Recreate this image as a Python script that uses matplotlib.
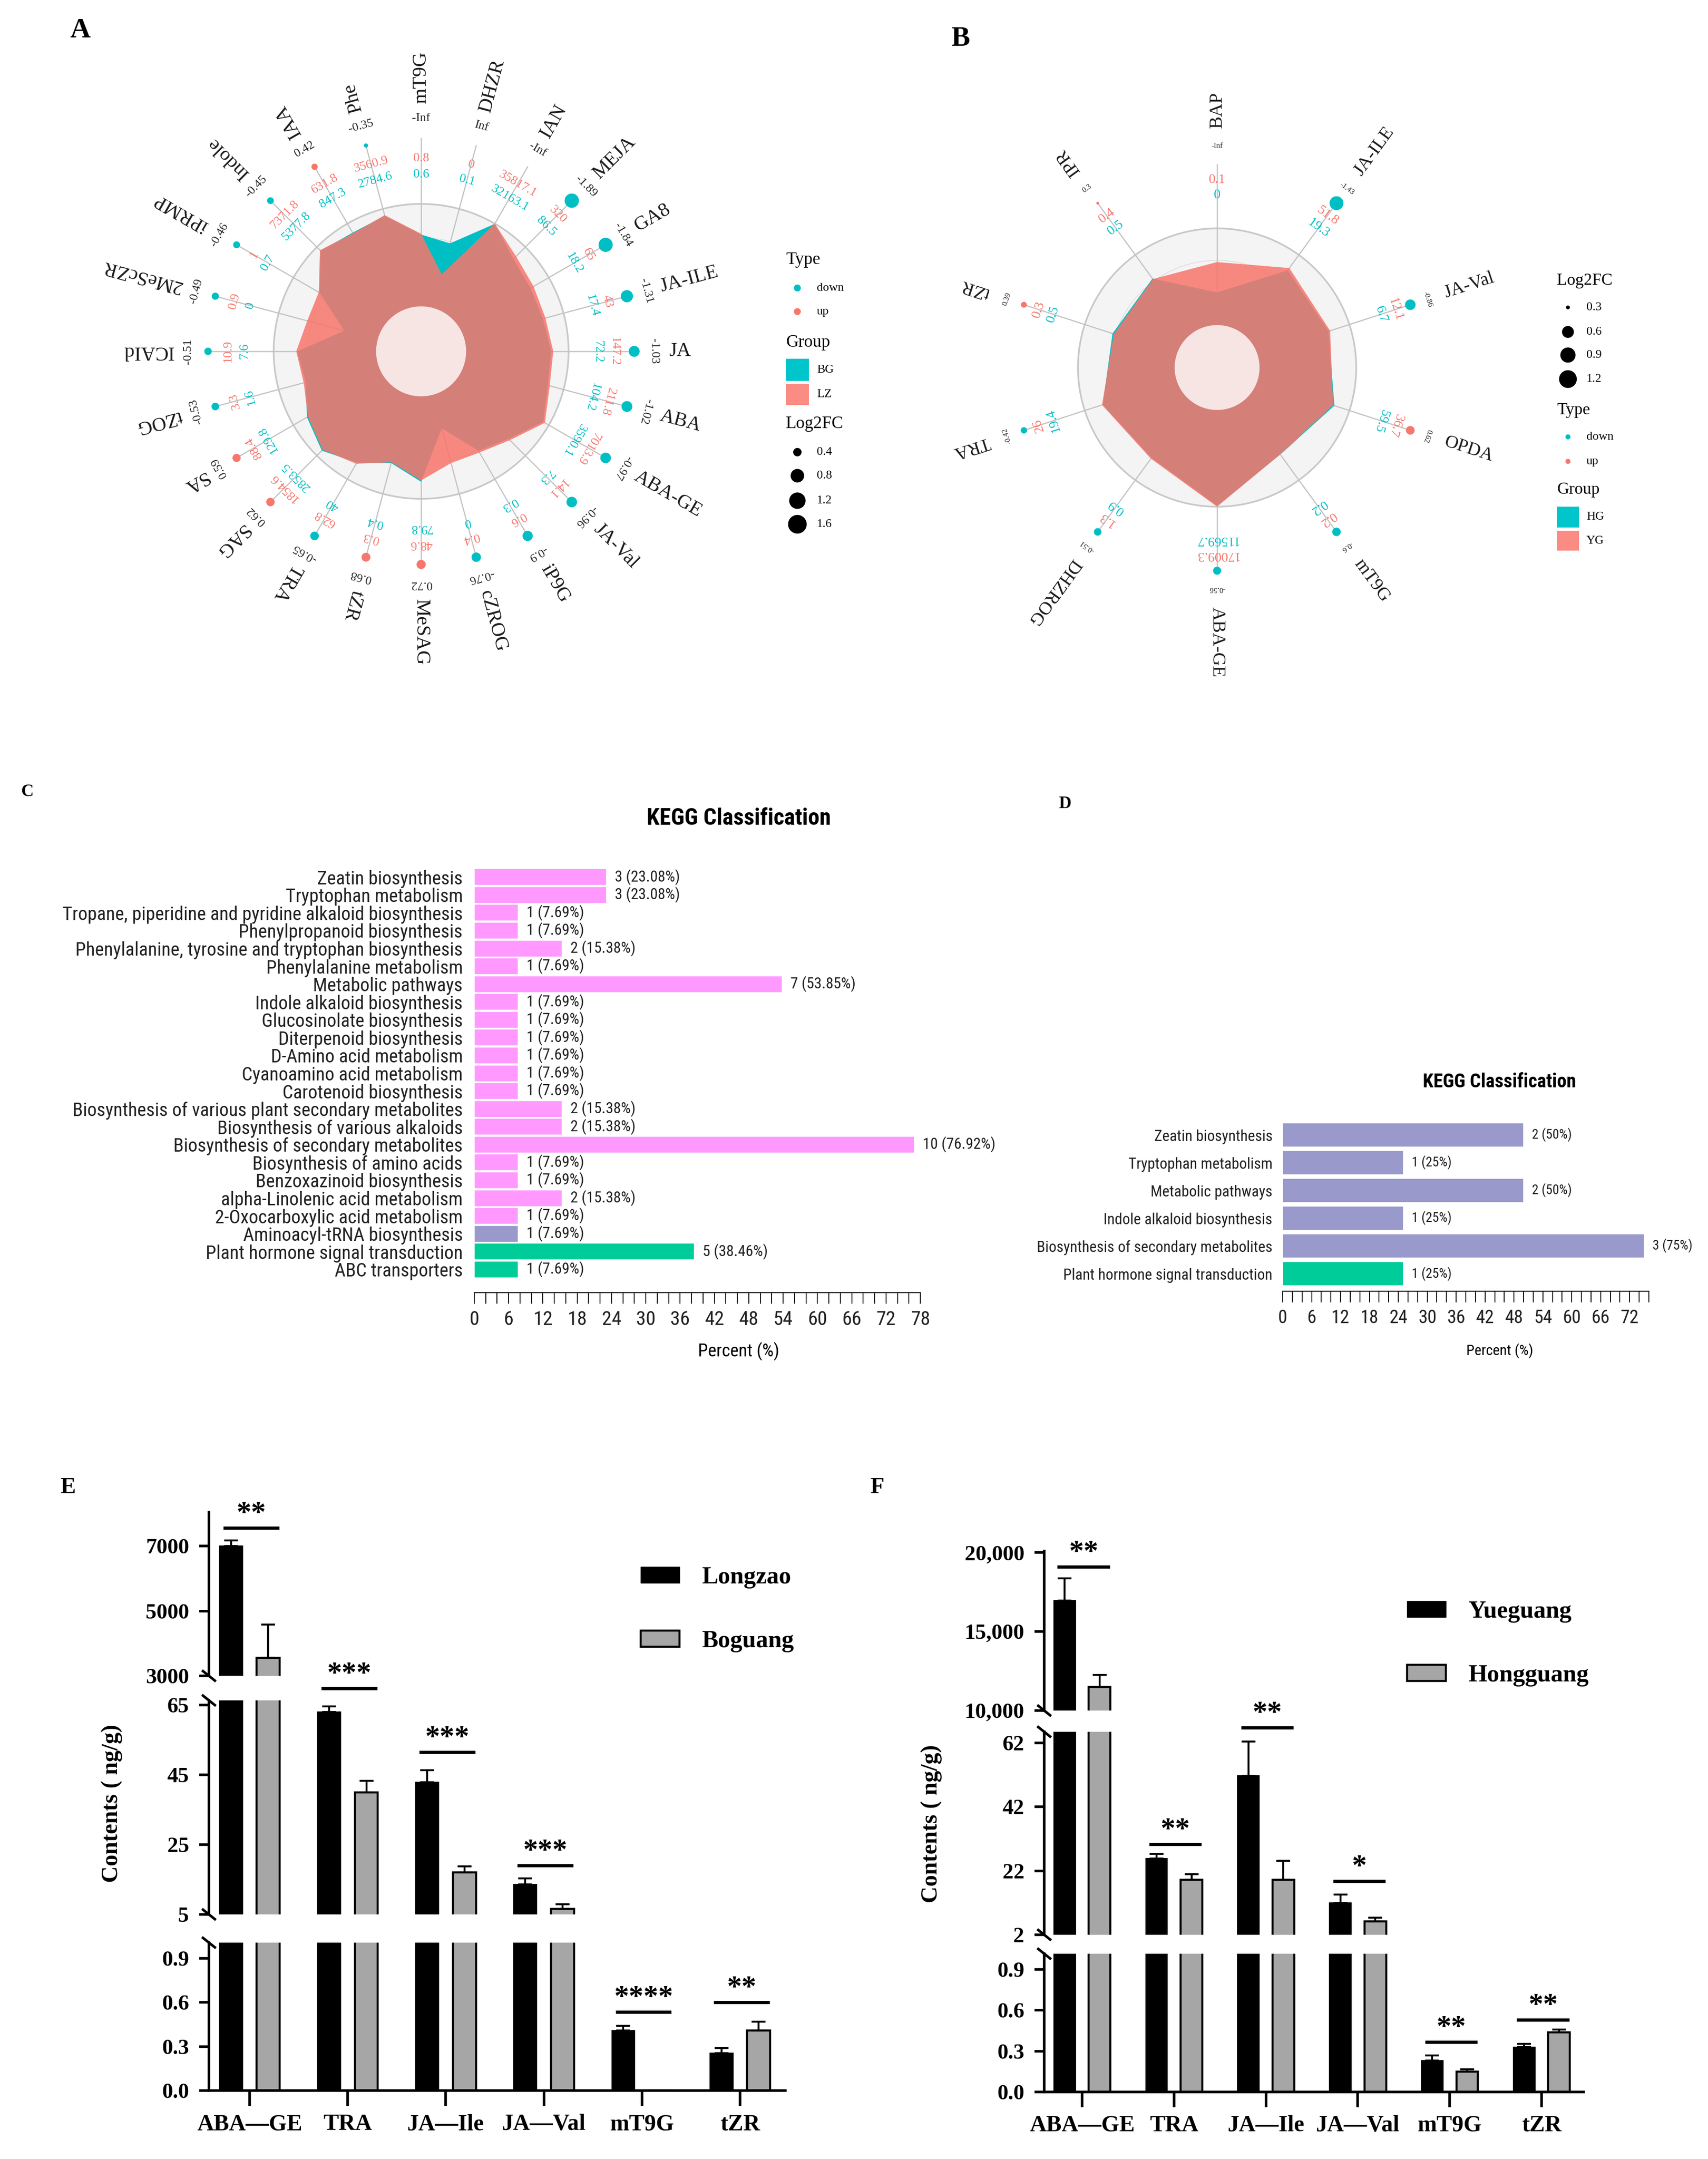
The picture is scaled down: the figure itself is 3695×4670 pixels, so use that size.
import numpy as np
import matplotlib
matplotlib.use("Agg")
import matplotlib.pyplot as plt
from matplotlib.patches import Rectangle, Patch
from matplotlib.ticker import MultipleLocator

W, H = 3695, 4670
SERIF = ["Liberation Serif", "DejaVu Serif"]
NARROW = ["Liberation Sans Narrow", "Roboto Condensed", "DejaVu Sans Condensed", "Liberation Sans"]
plt.rcParams["font.family"] = SERIF

CYAN = "#00BFC4"
PINK = "#F8766D"
GREY = "#A6A6A6"

# ---------------- data: panel A (LZ vs BG) ----------------
a_names = ["mT9G", "DHZR", "IAN", "MEJA", "GA8", "JA-ILE", "JA", "ABA", "ABA-GE", "JA-Val",
           "iP9G", "cZROG", "MeSAG", "tZR", "TRA", "SAG", "SA", "tZOG", "ICAId", "2MeScZR",
           "iPRMP", "Indole", "IAA", "Phe"]
a_lz = [0.8, 0, 35817.1, 320, 65, 43, 147.2, 211.8, 7013.9, 14.1, 0.6, 0.4, 48.6, 0.3, 62.8,
        1854.6, 88.4, 3.3, 10.9, 0.9, 1, 7371.8, 631.8, 3560.9]
a_bg = [0.6, 0.1, 32163.1, 86.5, 18.2, 17.4, 72.2, 104.2, 3590.1, 7.3, 0.3, 0, 79.8, 0.4, 40,
        2853.5, 129.8, 1.6, 7.6, 0, 0.7, 5377.8, 847.3, 2784.6]
a_fc = [-np.inf, np.inf, -np.inf, -1.89, -1.84, -1.31, -1.03, -1.02, -0.97, -0.96, -0.9, -0.76,
        0.72, 0.68, -0.65, 0.62, 0.59, -0.53, -0.51, -0.49, -0.46, -0.45, 0.42, -0.35]
a_size_breaks = [0.4, 0.8, 1.2, 1.6]

# ---------------- data: panel B (YG vs HG) ----------------
b_names = ["BAP", "JA-ILE", "JA-Val", "OPDA", "mT9G", "ABA-GE", "DHZROG", "TRA", "tZR", "IPR"]
b_yg = [0.1, 51.8, 12.1, 36.7, 0.2, 17009.3, 1.3, 26, 0.3, 0.4]
b_hg = [0, 19.3, 6.7, 59.5, 0.2, 11569.7, 0.9, 19.4, 0.5, 0.5]
b_fc = [-np.inf, -1.43, -0.86, 0.62, -0.6, -0.56, -0.51, -0.42, 0.39, 0.3]
b_size_breaks = [0.3, 0.6, 0.9, 1.2]

# ---------------- data: panel C / D (KEGG) ----------------
c_terms = ["Zeatin biosynthesis", "Tryptophan metabolism",
           "Tropane, piperidine and pyridine alkaloid biosynthesis", "Phenylpropanoid biosynthesis",
           "Phenylalanine, tyrosine and tryptophan biosynthesis", "Phenylalanine metabolism",
           "Metabolic pathways", "Indole alkaloid biosynthesis", "Glucosinolate biosynthesis",
           "Diterpenoid biosynthesis", "D-Amino acid metabolism", "Cyanoamino acid metabolism",
           "Carotenoid biosynthesis", "Biosynthesis of various plant secondary metabolites",
           "Biosynthesis of various alkaloids", "Biosynthesis of secondary metabolites",
           "Biosynthesis of amino acids", "Benzoxazinoid biosynthesis",
           "alpha-Linolenic acid metabolism", "2-Oxocarboxylic acid metabolism",
           "Aminoacyl-tRNA biosynthesis", "Plant hormone signal transduction", "ABC transporters"]
c_counts = [3, 3, 1, 1, 2, 1, 7, 1, 1, 1, 1, 1, 1, 2, 2, 10, 1, 1, 2, 1, 1, 5, 1]
c_class = ["met"] * 20 + ["gen", "env", "env"]
c_total = 13

d_terms = ["Zeatin biosynthesis", "Tryptophan metabolism", "Metabolic pathways",
           "Indole alkaloid biosynthesis", "Biosynthesis of secondary metabolites",
           "Plant hormone signal transduction"]
d_counts = [2, 1, 2, 1, 3, 1]
d_class = ["gen2"] * 5 + ["env"]
d_total = 4

class_colors = {"met": "#FF99FF", "gen": "#9999CC", "gen2": "#9999CC", "env": "#00CC99"}

# ---------------- data: panel E / F (contents) ----------------
cats = ["ABA\u2014GE", "TRA", "JA\u2014Ile", "JA\u2014Val", "mT9G", "tZR"]
e_longzao = [7000, 63.0, 42.9, 13.6, 0.41, 0.255]
e_longzao_err = [170, 1.6, 3.4, 1.7, 0.03, 0.035]
e_boguang = [3550, 40.0, 17.1, 6.6, 0, 0.41]
e_boguang_err = [1030, 3.2, 1.7, 1.3, 0, 0.06]
e_sig = ["**", "***", "***", "***", "****", "**"]
e_sig_seg = [0, 1, 1, 1, 2, 2]
e_sig_y = [7550, 69.8, 51.5, 19.0, 0.535, 0.60]
e_segs = [((3000, 8040), [3000, 5000, 7000], ["3000", "5000", "7000"]),
          ((5, 66.3), [5, 25, 45, 65], ["5", "25", "45", "65"]),
          ((0, 1.007), [0, 0.3, 0.6, 0.9], ["0.0", "0.3", "0.6", "0.9"])]

f_yueguang = [16960, 25.8, 51.8, 12.0, 0.23, 0.33]
f_yueguang_err = [1400, 1.5, 10.7, 2.6, 0.04, 0.025]
f_hongguang = [11490, 19.2, 19.2, 6.2, 0.15, 0.44]
f_hongguang_err = [760, 1.7, 6.0, 1.1, 0.015, 0.02]
f_sig = ["**", "**", "**", "*", "**", "**"]
f_sig_seg = [0, 1, 1, 1, 2, 2]
f_sig_y = [19094, 30.4, 66.8, 18.75, 0.367, 0.53]
f_segs = [((10000, 20100), [10000, 15000, 20000], ["10,000", "15,000", "20,000"]),
          ((2, 65.5), [2, 22, 42, 62], ["2", "22", "42", "62"]),
          ((0, 1.016), [0, 0.3, 0.6, 0.9], ["0.0", "0.3", "0.6", "0.9"])]


def rect(x0, y0, x1, y1):
    return [x0 / W, 1 - y1 / H, (x1 - x0) / W, (y1 - y0) / H]


def fmt(v):
    return f"{v:g}"


def fc_text(v):
    if np.isinf(v):
        return "-Inf" if v < 0 else "Inf"
    return f"{v:g}"


def dot_diam(v, lo, hi, dmin, dmax):
    # ggplot-like area scale, diameter in pixels
    return dmin + (dmax - dmin) * np.sqrt(np.clip((abs(v) - lo) / (hi - lo), 0, 1))


fig = plt.figure(figsize=(W / 100, H / 100), dpi=100)
ov = fig.add_axes([0, 0, 1, 1])
ov.set_xlim(0, W)
ov.set_ylim(H, 0)
ov.axis("off")


def radar(cx, cy, R, names, v_pink, v_cyan, fc, radii, fs, drange):
    span = 2.3
    ax = fig.add_axes(rect(cx - span * R, cy - span * R, cx + span * R, cy + span * R), projection="polar")
    ax.patch.set_visible(False)
    ax.set_theta_zero_location("N")
    ax.set_theta_direction(-1)
    ax.set_ylim(0, span)
    ax.axis("off")
    n = len(names)
    deg = np.arange(n) * 360.0 / n
    th = np.deg2rad(deg)
    tt = np.linspace(0, 2 * np.pi, 361)
    ax.fill(tt, np.ones_like(tt), color="#F4F4F4", lw=0, zorder=0)
    ax.plot(tt, np.ones_like(tt), color="#C8C8C8", lw=2.6, zorder=1)
    ax.plot(tt, np.full_like(tt, 0.77), color="#DDDDDD", lw=1.2, zorder=1)
    for t in th:
        ax.plot([t, t], [0, radii["dot"]], color="#C2C2C2", lw=1.8, zorder=1)

    # radial scale: log10 of contents, zero values pulled to an inner floor
    allv = np.concatenate([v_pink, v_cyan])
    lo = np.log10(allv[allv > 0].min())
    hi = np.log10(allv[allv > 0].max())

    def radial(v):
        v = np.asarray(v, float)
        out = np.full(v.shape, 0.54)
        pos = v > 0
        out[pos] = 0.758 + 0.242 * (np.log10(v[pos]) - lo) / (hi - lo)
        return out

    rc = radial(v_cyan)
    rp = radial(v_pink)
    ax.fill(np.r_[th, th[0]], np.r_[rc, rc[0]], color=CYAN, lw=0, zorder=2)
    ax.fill(np.r_[th, th[0]], np.r_[rp, rp[0]], color=PINK, alpha=0.86, lw=0, zorder=3)
    ax.fill(tt, np.full_like(tt, 0.305), color="white", alpha=0.8, lw=0, zorder=4)

    fin = np.array([abs(f) for f in fc if np.isfinite(f)])
    lo_fc, hi_fc = fin.min(), fin.max()
    for i in range(n):
        ax.text(th[i], radii["cyan"], fmt(v_cyan[i]), color=CYAN, fontsize=fs["val"],
                rotation=-deg[i], rotation_mode="anchor", ha="center", va="center", zorder=6)
        ax.text(th[i], radii["pink"], fmt(v_pink[i]), color=PINK, fontsize=fs["val"],
                rotation=-deg[i], rotation_mode="anchor", ha="center", va="center", zorder=6)
        if np.isfinite(fc[i]):
            d = dot_diam(fc[i], lo_fc, hi_fc, *drange)
            ax.scatter([th[i]], [radii["dot"]], s=(d * 0.72) ** 2, color=PINK if fc[i] > 0 else CYAN,
                       edgecolors="none", zorder=5)
        ax.text(th[i], radii["fc"], fc_text(fc[i]), color="#222222", fontsize=fs["fc"],
                rotation=-deg[i], rotation_mode="anchor", ha="center", va="center", zorder=6)
        ax.text(th[i], radii["name"], names[i], color="#1A1A1A", fontsize=fs["name"],
                rotation=90 - deg[i], rotation_mode="anchor", ha="left", va="center", zorder=6)
    return lo_fc, hi_fc


a_lo, a_hi = radar(911, 760, 319, a_names, a_lz, a_bg, a_fc,
                   dict(cyan=1.20, pink=1.31, dot=1.445, fc=1.58, name=1.68),
                   dict(name=31, val=20, fc=19), (9, 31))
b_lo, b_hi = radar(2633, 795, 301, b_names, b_yg, b_hg, b_fc,
                   dict(cyan=1.24, pink=1.35, dot=1.46, fc=1.59, name=1.72),
                   dict(name=29, val=21, fc=12), (6, 30))

# radar legends
ov.text(1700, 562, "Type", fontsize=27, va="center")
ov.scatter([1725, 1725], [623, 674], s=(15 * 0.72) ** 2, color=[CYAN, PINK], edgecolors="none")
ov.text(1767, 623, "down", fontsize=19, va="center")
ov.text(1767, 674, "up", fontsize=19, va="center")
ov.text(1700, 741, "Group", fontsize=27, va="center")
ov.add_patch(Rectangle((1700, 776), 50, 48, color="#00C6CB", lw=0))
ov.add_patch(Rectangle((1700, 830), 50, 46, color="#FA8C84", lw=0))
ov.text(1767, 800, "BG", fontsize=19, va="center")
ov.text(1767, 853, "LZ", fontsize=19, va="center")
ov.text(1700, 917, "Log2FC", fontsize=27, va="center")
for v, y in zip(a_size_breaks, [978, 1029, 1083, 1134]):
    d = 1.4 * dot_diam(v, a_lo, a_hi, 9, 31)
    ov.scatter([1725], [y], s=(d * 0.72) ** 2, color="black", edgecolors="none")
    ov.text(1767, y, fmt(v), fontsize=19, va="center")

ov.text(3368, 608, "Log2FC", fontsize=26, va="center")
for v, y in zip(b_size_breaks, [665, 718, 768, 820]):
    d = 1.4 * dot_diam(v, b_lo, b_hi, 6, 30)
    ov.scatter([3392], [y], s=(d * 0.72) ** 2, color="black", edgecolors="none")
    ov.text(3432, y, fmt(v), fontsize=19, va="center")
ov.text(3368, 888, "Type", fontsize=26, va="center")
ov.scatter([3392, 3392], [945, 998], s=(11 * 0.72) ** 2, color=[CYAN, PINK], edgecolors="none")
ov.text(3432, 945, "down", fontsize=19, va="center")
ov.text(3432, 998, "up", fontsize=19, va="center")
ov.text(3368, 1060, "Group", fontsize=26, va="center")
ov.add_patch(Rectangle((3368, 1096), 48, 45, color="#00C6CB", lw=0))
ov.add_patch(Rectangle((3368, 1148), 48, 43, color="#FA8C84", lw=0))
ov.text(3432, 1118, "HG", fontsize=19, va="center")
ov.text(3432, 1170, "YG", fontsize=19, va="center")


def kegg(x0, x1, xmax, xmaj_max, ytop, ybot, last_gap, terms, counts, total, classes, fs, bar_h, ypad):
    n = len(terms)
    ax = fig.add_axes(rect(x0, ytop, x1, ybot))
    ax.patch.set_visible(False)
    pct = np.array(counts) / total * 100
    ax.barh(np.arange(n), pct, height=bar_h, color=[class_colors[c] for c in classes],
            edgecolor="white", linewidth=1.2)
    for i, (c, p) in enumerate(zip(counts, pct)):
        lab = f"{p:.2f}".rstrip("0").rstrip(".")
        ax.annotate(f"{c} ({lab}%)", (p, i), xytext=(13, 0), textcoords="offset points",
                    va="center", ha="left", fontsize=fs["val"], family=NARROW, color="#222222")
    ax.set_xlim(0, xmax)
    ax.set_ylim(n - 1 + last_gap, -0.5)
    ax.set_yticks(np.arange(n), terms)
    ax.set_xticks(np.arange(0, xmaj_max + 1, 6))
    ax.xaxis.set_minor_locator(MultipleLocator(2))
    for s in ["top", "right", "left"]:
        ax.spines[s].set_visible(False)
    ax.spines["bottom"].set_linewidth(1.6)
    ax.tick_params(axis="y", length=0, pad=ypad, labelsize=fs["label"])
    ax.tick_params(axis="x", which="both", length=17, width=1.4, direction="out", pad=10,
                   labelsize=fs["tick"])
    for t in ax.get_xticklabels() + ax.get_yticklabels():
        t.set_fontfamily(NARROW)
        t.set_color("#222222")
    return ax


kegg(1026, 1991, 78, 78, 1878, 2796, 1.3, c_terms, c_counts, c_total, c_class,
     dict(val=24, label=29.5, tick=31), 0.93, 18)
ov.text(1598, 1770, "KEGG Classification", fontsize=36, fontweight="bold", family=NARROW,
        ha="center", va="center")
ov.text(1598, 2923, "Percent (%)", fontsize=28, family=NARROW, ha="center", va="center")

kegg(2775, 3567, 76, 72, 2425, 2793, 0.63, d_terms, d_counts, d_total, d_class,
     dict(val=21, label=24, tick=29), 0.87, 16)
ov.text(3244, 2341, "KEGG Classification", fontsize=30, fontweight="bold", family=NARROW,
        ha="center", va="center")
ov.text(3244, 2922, "Percent (%)", fontsize=23, family=NARROW, ha="center", va="center")


def content_bars(x0, x1, c0, step, seg_px, segs, va_, ea_, vb_, eb_, sig, sig_seg, sig_y):
    n = len(cats)
    x = np.arange(n)
    axs = []
    for k, ((yt, yb), (lim, tk, tl)) in enumerate(zip(seg_px, segs)):
        ax = fig.add_axes(rect(x0, yt, x1, yb))
        ax.patch.set_visible(False)
        ax.bar(x - 0.19, va_, 0.235, color="black", edgecolor="black", linewidth=1.5, zorder=2)
        ax.bar(x + 0.19, vb_, 0.235, color=GREY, edgecolor="black", linewidth=3.2, zorder=2)
        for xs, v, e in ((x - 0.19, va_, ea_), (x + 0.19, vb_, eb_)):
            v = np.asarray(v, float)
            e = np.asarray(e, float)
            m = v > 0
            ax.errorbar(xs[m], v[m], yerr=[np.zeros(m.sum()), e[m]], fmt="none", ecolor="black",
                        elinewidth=3, capsize=11, capthick=3, zorder=3)
        ax.set_xlim((x0 - c0) / step, (x1 - c0) / step)
        ax.set_ylim(*lim)
        ax.set_yticks(tk, tl)
        ax.spines["top"].set_visible(False)
        ax.spines["right"].set_visible(False)
        ax.spines["left"].set_linewidth(4)
        if k < len(segs) - 1:
            ax.spines["bottom"].set_visible(False)
            ax.tick_params(axis="x", bottom=False, labelbottom=False)
        else:
            ax.spines["bottom"].set_linewidth(4)
            ax.set_xticks(x, cats)
            ax.tick_params(axis="x", length=24, width=4, pad=12, labelsize=36)
        ax.tick_params(axis="y", length=15, width=4, pad=16, labelsize=34)
        for t in ax.get_xticklabels() + ax.get_yticklabels():
            t.set_fontweight("bold")
        axs.append(ax)
    for s, k, y, i in zip(sig, sig_seg, sig_y, x):
        ax = axs[k]
        ax.plot([i - 0.27, i + 0.3], [y, y], color="black", lw=5, clip_on=False,
                solid_capstyle="butt", zorder=4)
        ax.annotate(s, (i + 0.015, y), xytext=(0, 0), textcoords="offset points", ha="center",
                    va="bottom", fontsize=46, fontweight="bold", annotation_clip=False)
    return axs


e_px = [(3271, 3625), (3678, 4141), (4202, 4522)]
content_bars(452, 1699, 540, 212.2, e_px, e_segs, e_longzao, e_longzao_err, e_boguang, e_boguang_err,
             e_sig, e_sig_seg, e_sig_y)
f_px = [(3355, 3700), (3746, 4185), (4226, 4525)]
content_bars(2259, 3426, 2341, 198.8, f_px, f_segs, f_yueguang, f_yueguang_err, f_hongguang,
             f_hongguang_err, f_sig, f_sig_seg, f_sig_y)

# axis break marks
for xa, ys in ((452, [3625, 3678, 4141, 4202]), (2259, [3700, 3746, 4185, 4226])):
    for y in ys:
        ov.plot([xa - 15, xa + 15], [y - 12, y + 12], color="black", lw=4, solid_capstyle="butt")

ov.text(242, 3901, "Contents ( ng/g)", rotation=90, fontsize=36, fontweight="bold",
        ha="center", va="center")
ov.text(2015, 3945, "Contents ( ng/g)", rotation=90, fontsize=36, fontweight="bold",
        ha="center", va="center")

leg_kw = dict(loc="upper left", frameon=False, prop={"family": SERIF, "weight": "bold", "size": 38},
              handlelength=1.6, handleheight=0.65, handletextpad=0.9, labelspacing=1.7,
              borderpad=0, borderaxespad=0)
fig.legend([Patch(facecolor="black", edgecolor="black"),
            Patch(facecolor=GREY, edgecolor="black", linewidth=3.2)],
           ["Longzao", "Boguang"], bbox_to_anchor=(1386 / W, 1 - 3388 / H), **leg_kw)
fig.legend([Patch(facecolor="black", edgecolor="black"),
            Patch(facecolor=GREY, edgecolor="black", linewidth=3.2)],
           ["Yueguang", "Hongguang"], bbox_to_anchor=(3044 / W, 1 - 3462 / H), **leg_kw)

# panel letters
for s, x, y, fs in (("A", 173, 66, 44), ("B", 2078, 84, 44), ("C", 59, 1712, 27),
                    ("D", 2304, 1739, 27), ("E", 147, 3218, 36), ("F", 1897, 3218, 36)):
    ov.text(x, y, s, fontsize=fs, fontweight="bold", ha="center", va="center")

fig.savefig("out.png", dpi=100)
